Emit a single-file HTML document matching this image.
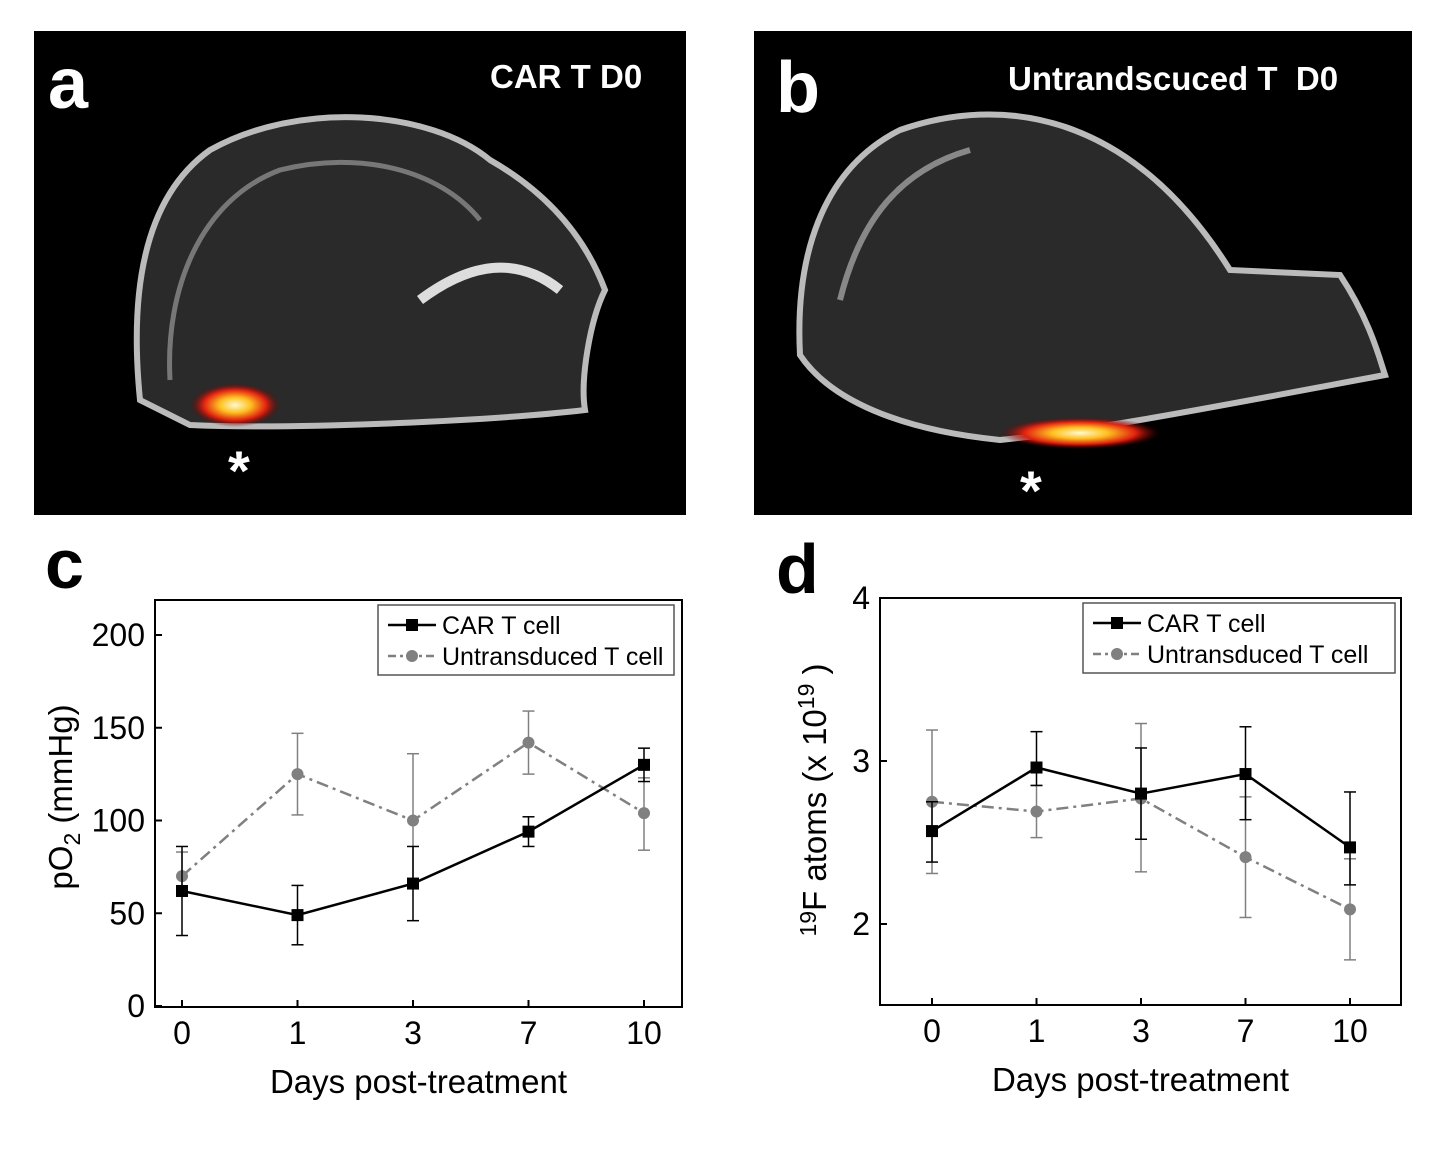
<!DOCTYPE html>
<html><head><meta charset="utf-8"><style>
body{margin:0;background:#fff;width:1455px;height:1153px;overflow:hidden;font-family:"Liberation Sans",Arial,sans-serif}
svg{position:absolute;left:0;top:0}
</style></head><body>
<svg id="fig" width="1455" height="1153">
<defs>
<radialGradient id="hot" cx="50%" cy="50%" r="50%"><stop offset="0" stop-color="#fffbd0"/><stop offset="0.35" stop-color="#ffc020"/><stop offset="0.7" stop-color="#e02010"/><stop offset="1" stop-color="#600000" stop-opacity="0"/></radialGradient>
</defs>
<g>
<rect x="34" y="31" width="652" height="484" fill="#000"/>
<path d="M140,400 C130,300 140,200 210,150 C300,100 430,110 490,160 C560,200 590,250 605,290 C590,320 580,380 585,410 C500,420 300,430 190,425 Z" fill="#2a2a2a" stroke="#bbb" stroke-width="6"/>
<path d="M170,380 C165,290 200,200 280,170 C360,150 440,170 480,220" fill="none" stroke="#777" stroke-width="5"/>
<path d="M420,300 C460,270 510,250 560,290" fill="none" stroke="#ddd" stroke-width="10"/>
<ellipse cx="235" cy="405" rx="45" ry="22" fill="url(#hot)"/>
<text x="48" y="108" font-size="72" font-weight="bold" fill="#fff">a</text>
<text x="490" y="88" font-size="33" font-weight="bold" fill="#fff">CAR T D0</text>
<text x="228" y="490" font-size="56" font-weight="bold" fill="#fff">*</text>
</g>
<g>
<rect x="754" y="31" width="658" height="484" fill="#000"/>
<path d="M800,355 C795,260 820,170 900,130 C1000,95 1130,110 1230,270 L1340,275 C1370,320 1380,360 1385,375 C1250,400 1100,430 1000,440 C900,430 830,400 800,355 Z" fill="#2a2a2a" stroke="#bbb" stroke-width="6"/>
<path d="M840,300 C860,220 900,170 970,150" fill="none" stroke="#888" stroke-width="6"/>
<ellipse cx="1080" cy="433" rx="80" ry="16" fill="url(#hot)"/>
<text x="776" y="112" font-size="72" font-weight="bold" fill="#fff">b</text>
<text x="1008" y="90" font-size="33" font-weight="bold" fill="#fff">Untrandscuced T&#160;&#160;D0</text>
<text x="1020" y="510" font-size="56" font-weight="bold" fill="#fff">*</text>
</g>
<text x="45" y="588" font-size="70" font-weight="bold" fill="#000">c</text>
<text x="776" y="593" font-size="70" font-weight="bold" fill="#000">d</text>
<g id="chartC"></g>
<g id="chartD"></g>
</svg>
<script>
const categories=["0","1","3","7","10"];
const cCar=[62,49,66,94,130];
const cCarHi=[86,65,86,102,139];
const cCarLo=[38,33,46,86,121];
const cUn=[70,125,100,142,104];
const cUnHi=[83,147,136,159,123];
const cUnLo=[60,103,66,125,84];
const cTicks=[0,50,100,150,200];
const dCar=[2.57,2.96,2.80,2.92,2.47];
const dCarHi=[2.75,3.18,3.08,3.21,2.81];
const dCarLo=[2.38,2.85,2.52,2.64,2.24];
const dUn=[2.75,2.69,2.77,2.41,2.09];
const dUnHi=[3.19,2.85,3.23,2.78,2.40];
const dUnLo=[2.31,2.53,2.32,2.04,1.78];
const dTicks=[2,3,4];
const NS="http://www.w3.org/2000/svg";
function mk(p,t,a,txt){const e=document.createElementNS(NS,t);for(const k in a)e.setAttribute(k,a[k]);if(txt!==undefined)e.textContent=txt;p.appendChild(e);return e;}
function chart(g,o){
  const xs=i=>o.x0+i*o.dx, ys=v=>o.yb-(v-o.vmin)*o.ky;
  const box=mk(g,'rect',{x:o.bx,y:o.by,width:o.bw,height:o.bh,fill:'none',stroke:'#000','stroke-width':2});
  
  o.ticks.forEach(t=>{const y=ys(t);mk(g,'line',{x1:o.bx,x2:o.bx+7,y1:y,y2:y,stroke:'#000','stroke-width':2});
    const l=mk(g,'text',{x:o.bx-10,y:y+11,'text-anchor':'end','font-size':32},String(t));
    });
  categories.forEach((c,i)=>{const x=xs(i);mk(g,'line',{x1:x,x2:x,y1:o.by+o.bh,y2:o.by+o.bh-7,stroke:'#000','stroke-width':2});
    const l=mk(g,'text',{x:x,y:o.by+o.bh+37,'text-anchor':'middle','font-size':32},c);
    });
  const xt=mk(g,'text',{x:o.bx+o.bw/2,y:o.by+o.bh+86,'text-anchor':'middle','font-size':33},'Days post-treatment');
  
  const series=[[o.un,o.unHi,o.unLo,'#808080','12,5,3,5','circle','untransduced'],[o.car,o.carHi,o.carLo,'#000','','square','car-t']];
  series.forEach(([v,hi,lo,col,dash,m,nm])=>{
    v.forEach((_,i)=>{const x=xs(i);mk(g,'line',{x1:x,x2:x,y1:ys(hi[i]),y2:ys(lo[i]),stroke:col,'stroke-width':1.5});
      [hi[i],lo[i]].forEach(e=>mk(g,'line',{x1:x-6,x2:x+6,y1:ys(e),y2:ys(e),stroke:col,'stroke-width':1.5}));});
    const pl=mk(g,'polyline',{points:v.map((d,i)=>xs(i)+','+ys(d)).join(' '),fill:'none',stroke:col,'stroke-width':2.5,'stroke-dasharray':dash});
    
    v.forEach((d,i)=>{const x=xs(i),y=ys(d);let p;
      if(m=='square')p=mk(g,'rect',{x:x-6,y:y-6,width:12,height:12,fill:col});else p=mk(g,'circle',{cx:x,cy:y,r:6,fill:col});
      });
  });
  const lg=mk(g,'g',{});
  mk(lg,'rect',{x:o.lx,y:o.ly,width:o.lw,height:70,fill:'#fff',stroke:'#555','stroke-width':1.5});
  mk(lg,'line',{x1:o.lx+10,x2:o.lx+58,y1:o.ly+20,y2:o.ly+20,stroke:'#000','stroke-width':2.5});
  mk(lg,'rect',{x:o.lx+28,y:o.ly+14,width:12,height:12,fill:'#000'});
  mk(lg,'text',{x:o.lx+64,y:o.ly+29,'font-size':25},'CAR T cell');
  mk(lg,'line',{x1:o.lx+10,x2:o.lx+58,y1:o.ly+51,y2:o.ly+51,stroke:'#808080','stroke-width':2.5,'stroke-dasharray':'8,4,3,4'});
  mk(lg,'circle',{cx:o.lx+34,cy:o.ly+51,r:6,fill:'#808080'});
  mk(lg,'text',{x:o.lx+64,y:o.ly+60,'font-size':25},'Untransduced T cell');
}
const gc=document.getElementById('chartC');
chart(gc,{bx:155,by:600,bw:527,bh:407,x0:182,dx:115.5,yb:1006,vmin:0,ky:1.855,ticks:cTicks,car:cCar,carHi:cCarHi,carLo:cCarLo,un:cUn,unHi:cUnHi,unLo:cUnLo,lx:378,ly:605,lw:296});
const yc=mk(gc,'text',{transform:'translate(72,797) rotate(-90)','text-anchor':'middle','font-size':33});

mk(yc,'tspan',{},'pO');mk(yc,'tspan',{'font-size':23,dy:8},'2');mk(yc,'tspan',{dy:-8},'  (mmHg)');
const gd=document.getElementById('chartD');
chart(gd,{bx:880,by:598,bw:521,bh:407,x0:932,dx:104.5,yb:924,vmin:2,ky:163,ticks:dTicks,car:dCar,carHi:dCarHi,carLo:dCarLo,un:dUn,unHi:dUnHi,unLo:dUnLo,lx:1083,ly:603,lw:312});
const yd=mk(gd,'text',{transform:'translate(826,800) rotate(-90)','text-anchor':'middle','font-size':33});

mk(yd,'tspan',{'font-size':23,dy:-10},'19');mk(yd,'tspan',{dy:10},'F atoms (x 10');mk(yd,'tspan',{'font-size':23,dy:-12},'19');mk(yd,'tspan',{dy:12},'  )');
</script>
</body></html>
